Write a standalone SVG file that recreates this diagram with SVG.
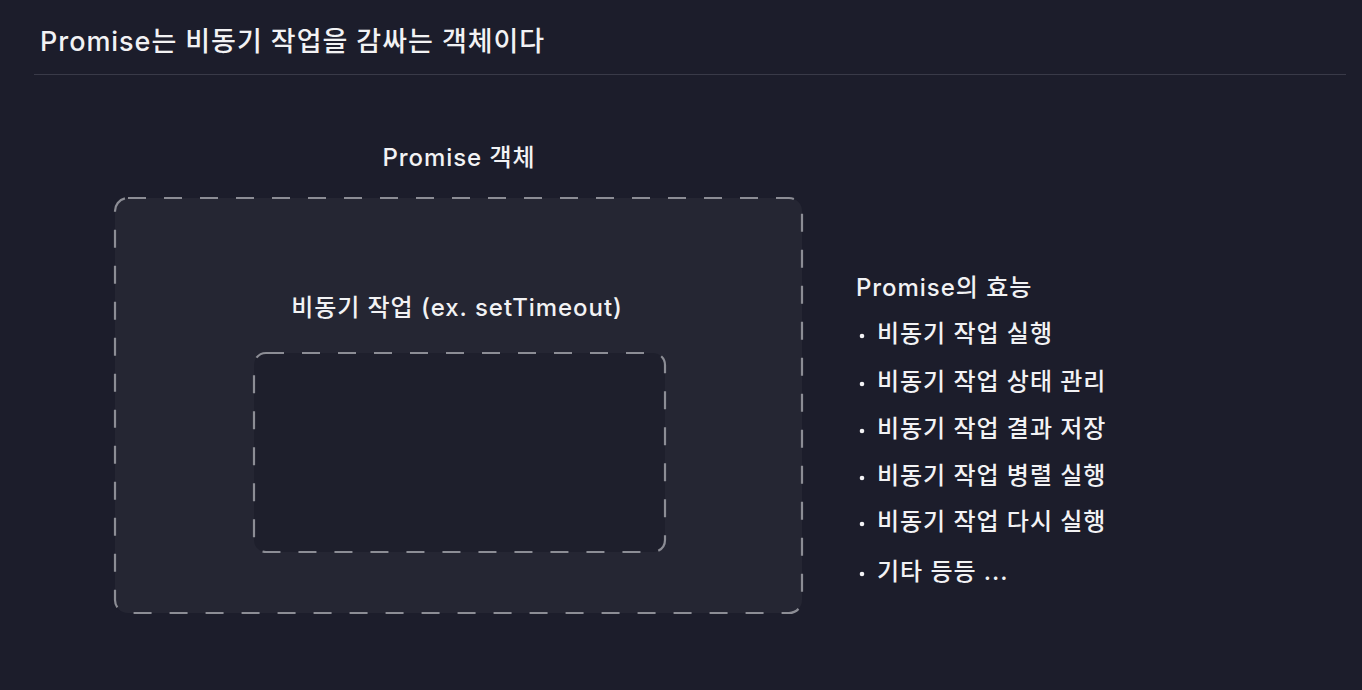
<svg xmlns="http://www.w3.org/2000/svg" width="1362" height="690" viewBox="0 0 1362 690">
<style>
text{font-family:Inter,"Noto Sans CJK KR",sans-serif;fill:#f2f2f4;font-weight:500;letter-spacing:0.95px}
.box{stroke:#8c8d95;stroke-width:2.2;stroke-dasharray:18 18}
.t{font-size:24px}
.li{font-size:24px}
</style>
<rect x="0" y="0" width="1362" height="690" fill="#1c1d2b"/>
<g id="title">
<text x="40" y="51" font-size="27">Promise는 비동기 작업을 감싸는 객체이다</text>
<line x1="34" y1="74.5" x2="1346" y2="74.5" stroke="#393a48" stroke-width="1.2"/>
</g>
<g id="promise-object">
<text class="t" x="459" y="166" text-anchor="middle">Promise 객체</text>
<rect class="box" x="115" y="198" width="687" height="415" rx="13" fill="#252633"/>
</g>
<g id="async-task">
<text class="t" x="457" y="316" text-anchor="middle">비동기 작업 (ex. setTimeout)</text>
<rect class="box" x="254" y="353" width="411" height="199" rx="12" fill="#1e1f2c"/>
</g>
<g id="effects">
<text class="li" x="856" y="296">Promise의 효능</text>
<g fill="#f2f2f4">
<circle cx="862" cy="336" r="2.3"/>
<circle cx="862" cy="384" r="2.3"/>
<circle cx="862" cy="431" r="2.3"/>
<circle cx="862" cy="478" r="2.3"/>
<circle cx="862" cy="524" r="2.3"/>
<circle cx="862" cy="574" r="2.3"/>
</g>
<text class="li" x="877" y="342">비동기 작업 실행</text>
<text class="li" x="877" y="390">비동기 작업 상태 관리</text>
<text class="li" x="877" y="437">비동기 작업 결과 저장</text>
<text class="li" x="877" y="484">비동기 작업 병렬 실행</text>
<text class="li" x="877" y="530">비동기 작업 다시 실행</text>
<text class="li" x="877" y="580">기타 등등 ...</text>
</g>
<g id="connectors"></g>
</svg>
